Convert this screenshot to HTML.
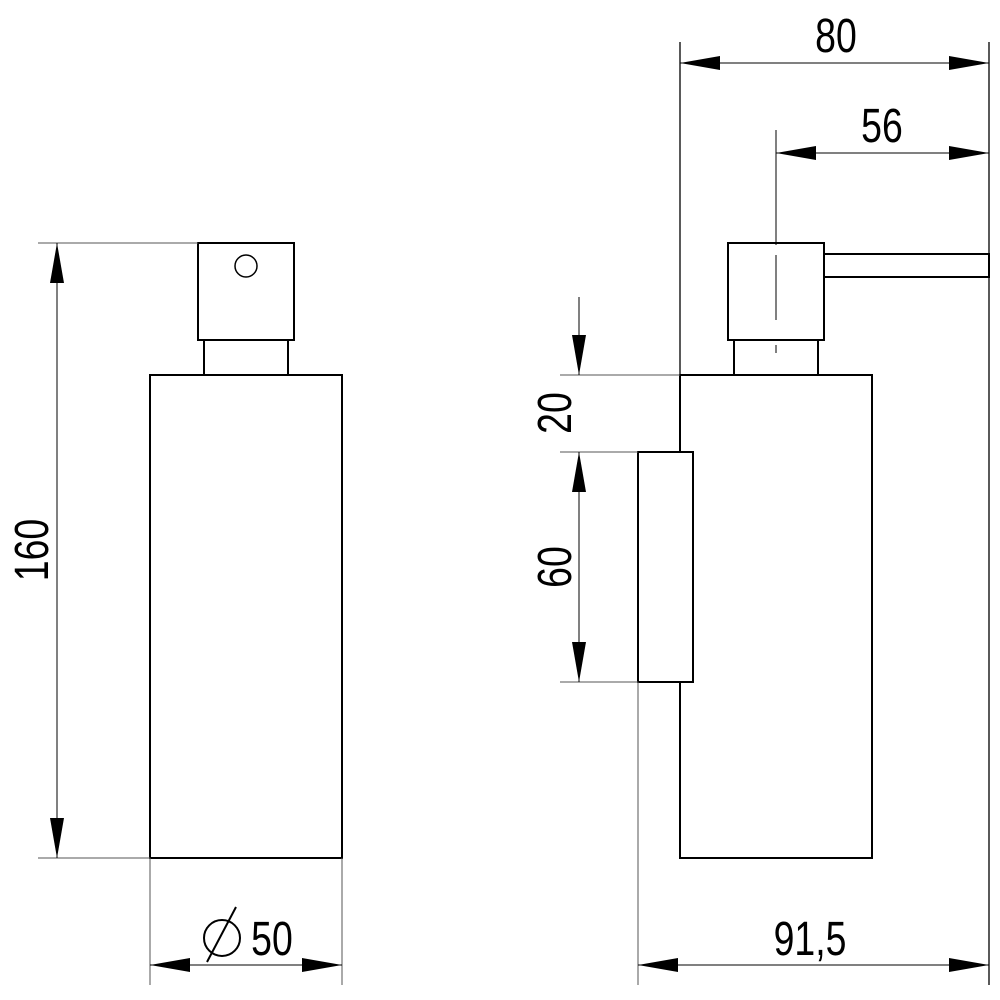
<!DOCTYPE html>
<html><head><meta charset="utf-8"><style>html,body{margin:0;padding:0;background:#fff}svg{display:block}</style></head>
<body>
<svg width="1000" height="1000" viewBox="0 0 1000 1000" xmlns="http://www.w3.org/2000/svg">
<defs>
<marker id="a" viewBox="0 0 40 14" refX="40" refY="7" markerWidth="40" markerHeight="14" markerUnits="userSpaceOnUse" orient="auto-start-reverse"><path d="M0,0 L40,7 L0,14 Z" fill="#000"/></marker>
</defs>
<g fill="none" stroke="#000" stroke-width="2">
<rect x="198" y="243" width="96" height="97"/>
<circle cx="246" cy="266" r="11" stroke-width="1.5"/>
<rect x="204" y="340" width="84" height="35"/>
<rect x="150" y="375" width="192" height="483"/>
<rect x="728" y="243" width="96" height="97"/>
<path d="M824,254 H989 V277 H824"/>
<rect x="734" y="340" width="84" height="35"/>
<rect x="680" y="375" width="192" height="483"/>
<rect x="638" y="452" width="55" height="230" fill="#fff"/>
</g>
<g fill="none" stroke="#000" stroke-width="1">
<line x1="38" y1="243" x2="198" y2="243" stroke="#555"/>
<line x1="38" y1="858" x2="150" y2="858" stroke="#555"/>
<line x1="150" y1="858" x2="150" y2="985" stroke="#555"/>
<line x1="342" y1="858" x2="342" y2="985" stroke="#555"/>
<line x1="680" y1="42" x2="680" y2="452" stroke-width="1.3"/>
<line x1="989" y1="42" x2="989" y2="985" stroke-width="1.3"/>
<line x1="776" y1="130" x2="776" y2="245"/>
<line x1="776" y1="255" x2="776" y2="320"/>
<line x1="776" y1="345" x2="776" y2="353"/>
<line x1="638" y1="682" x2="638" y2="985" stroke="#555"/>
<line x1="560" y1="375" x2="680" y2="375" stroke="#555"/>
<line x1="560" y1="452" x2="638" y2="452" stroke="#555"/>
<line x1="560" y1="682" x2="638" y2="682" stroke="#555"/>
<line x1="57" y1="243" x2="57" y2="858" marker-start="url(#a)" marker-end="url(#a)"/>
<line x1="150" y1="965" x2="342" y2="965" marker-start="url(#a)" marker-end="url(#a)"/>
<line x1="680" y1="63" x2="989" y2="63" marker-start="url(#a)" marker-end="url(#a)"/>
<line x1="776" y1="153" x2="989" y2="153" marker-start="url(#a)" marker-end="url(#a)"/>
<line x1="638" y1="965" x2="989" y2="965" marker-start="url(#a)" marker-end="url(#a)"/>
<line x1="579" y1="297" x2="579" y2="375" marker-end="url(#a)"/>
<line x1="579" y1="452" x2="579" y2="682" marker-start="url(#a)" marker-end="url(#a)"/>
</g>
<g font-family="'Liberation Sans Narrow','Liberation Sans',sans-serif" font-size="48" fill="#000" text-anchor="middle">
<text transform="translate(836,52) scale(0.78,1)">80</text>
<text transform="translate(882,142) scale(0.78,1)">56</text>
<text transform="translate(810,955) scale(0.78,1)">91,5</text>
<text transform="translate(272,955) scale(0.78,1)">50</text>
<text transform="translate(48,550) rotate(-90) scale(0.78,1)">160</text>
<text transform="translate(571,413) rotate(-90) scale(0.78,1)">20</text>
<text transform="translate(571,567) rotate(-90) scale(0.78,1)">60</text>
</g>
<g fill="none" stroke="#000" stroke-width="2">
<circle cx="222" cy="938" r="18"/>
<line x1="236" y1="907" x2="207" y2="962"/>
</g>
</svg>
</body></html>
